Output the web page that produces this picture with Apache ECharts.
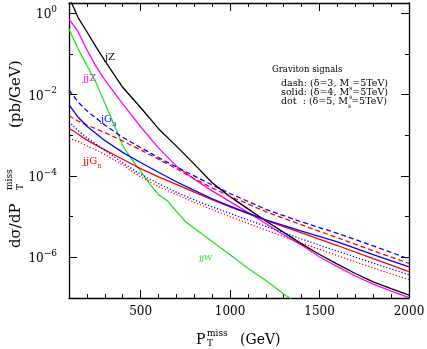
<!DOCTYPE html>
<html>
<head>
<meta charset="utf-8">
<script src="https://cdn.jsdelivr.net/npm/echarts@6/dist/echarts.min.js"></script>
<style>
  html, body { margin: 0; padding: 0; background: #fff; }
  #chart { width: 427px; height: 349px; }
</style>
</head>
<body>
<div id="chart"></div>
<script>
// missing pT points (GeV)
var ptBkg = [100, 150, 200, 250, 300, 400, 500, 600, 700, 800, 900, 1000, 1100, 1200, 1300, 1400, 1500, 1600, 1700, 1800, 1900, 2000];
var ptW = [100, 150, 200, 250, 300, 350, 400, 450, 500, 550, 600, 650, 700, 750, 800, 900, 1000, 1100, 1200, 1300, 1400];
var ptSig = [100, 150, 200, 300, 400, 500, 600, 700, 800, 900, 1000, 1200, 1400, 1600, 1800, 2000];

// backgrounds, dsigma/dpT (pb/GeV)
var jZ = [2.5, 0.79, 0.35, 0.151, 0.068, 1.51e-2, 4.8e-3, 1.45e-3, 5.4e-4, 1.95e-4, 6.8e-5, 3.1e-5, 1.55e-5, 7.8e-6, 4.1e-6, 2.14e-6, 1.17e-6, 6.8e-7, 4.0e-7, 2.5e-7, 1.7e-7, 1.17e-7];
var jjZ = [0.71, 0.355, 0.126, 0.05, 0.0229, 5.9e-3, 1.62e-3, 4.9e-4, 1.74e-4, 8.3e-5, 4.3e-5, 2.34e-5, 1.26e-5, 6.8e-6, 3.55e-6, 2.0e-6, 1.02e-6, 5.9e-7, 3.47e-7, 2.19e-7, 1.48e-7, 1.02e-7];
var jjW = [0.41, 0.135, 0.052, 0.020, 6.2e-3, 1.91e-3, 5.6e-4, 2.57e-4, 1.32e-4, 6.5e-5, 3.47e-5, 2.45e-5, 1.35e-5, 7.6e-6, 5.2e-6, 2.45e-6, 1.15e-6, 5.4e-7, 2.7e-7, 1.26e-7, 6.3e-8];

// graviton signals: dash d=3, solid d=4, dot d=5
var jGnDash = [1.29e-2, 6.6e-3, 3.98e-3, 1.78e-3, 8.9e-4, 5.0e-4, 2.82e-4, 1.66e-4, 1.0e-4, 6.0e-5, 3.7e-5, 1.51e-5, 7.4e-6, 3.9e-6, 1.91e-6, 9.1e-7];
var jGnSolid = [5.6e-3, 2.82e-3, 1.66e-3, 7.4e-4, 3.8e-4, 2.14e-4, 1.23e-4, 7.2e-5, 4.4e-5, 2.75e-5, 1.82e-5, 8.3e-6, 4.4e-6, 2.4e-6, 1.17e-6, 5.8e-7];
var jGnDot = [2.14e-3, 1.32e-3, 8.7e-4, 4.27e-4, 2.09e-4, 1.10e-4, 6.5e-5, 3.98e-5, 2.57e-5, 1.74e-5, 1.20e-5, 5.75e-6, 2.82e-6, 1.41e-6, 7.2e-7, 3.72e-7];
var jjGnDash = [3.02e-3, 2.24e-3, 1.78e-3, 1.17e-3, 7.24e-4, 4.37e-4, 2.57e-4, 1.51e-4, 8.5e-5, 5.1e-5, 3.16e-5, 1.32e-5, 6.3e-6, 3.02e-6, 1.45e-6, 7.1e-7];
var jjGnSolid = [1.48e-3, 1.07e-3, 7.6e-4, 4.37e-4, 2.57e-4, 1.51e-4, 9.5e-5, 6.2e-5, 3.98e-5, 2.63e-5, 1.74e-5, 8.1e-6, 3.98e-6, 1.95e-6, 9.3e-7, 4.47e-7];
var jjGnDot = [8.3e-4, 7.1e-4, 5.5e-4, 3.39e-4, 1.86e-4, 9.5e-5, 5.5e-5, 3.55e-5, 2.24e-5, 1.48e-5, 1.0e-5, 4.68e-6, 2.24e-6, 1.10e-6, 5.5e-7, 2.82e-7];

var xMajorTicks = [500, 1000, 1500, 2000];
var yMajorTicks = [1e-6, 1e-4, 1e-2, 1];

var SERIF = 'DejaVu Serif';

function pairs (xs, ys) {
  return xs.map(function (x, i) { return [x, ys[i]] })
}

function curve (name, xs, ys, color, type) {
  return {
    name: name,
    type: 'line',
    data: pairs(xs, ys),
    showSymbol: false,
    symbol: 'none',
    clip: true,
    lineStyle: { color: color, width: 1.3, type: type || 'solid' }
  }
}

function yLabel (v) {
  var l = Math.log10(v)
  var e = Math.round(l)
  if (Math.abs(l - e) > 1e-6 || e % 2 !== 0) return ''
  return '{b|10}{s|' + (e < 0 ? '\u2212' : '') + Math.abs(e) + '}'
}

function txt (x, y, text, size, color) {
  return { type: 'text', x: x, y: y, style: { text: text, font: size + 'px "DejaVu Serif"', fill: color || '#000', verticalAlign: 'middle' } }
}

function subTxt (x, y, main, sub, color) {
  return {
    type: 'text', x: x, y: y,
    style: {
      text: '{a|' + main + '}{n|' + sub + '}', verticalAlign: 'middle',
      rich: {
        a: { font: '10px "DejaVu Serif"', fill: color, verticalAlign: 'bottom', padding: [0, 0, 3, 0] },
        n: { font: '7px "DejaVu Serif"', fill: color, verticalAlign: 'bottom' }
      }
    }
  }
}

// one line of the signal key, M with subscript s
function keyLine (y, head, delta) {
  return {
    type: 'text', x: 281, y: y,
    style: {
      text: '{a|' + head + ' (\u03b4=' + delta + ', M}{s|s}{a|=5TeV)}', verticalAlign: 'middle',
      rich: {
        a: { font: '9.5px "DejaVu Serif"', fill: '#000', verticalAlign: 'bottom', padding: [0, 0, 2, 0] },
        s: { font: '6px "DejaVu Serif"', fill: '#000', verticalAlign: 'bottom' }
      }
    }
  }
}

var chart = echarts.init(document.getElementById('chart'))

var frame = { show: true, lineStyle: { color: '#000', width: 1.3 } }
var minorTick = { inside: true, length: 4, lineStyle: { color: '#000', width: 1 } }
function majorTick (vals) {
  return { inside: true, length: 8, customValues: vals, lineStyle: { color: '#000', width: 1 } }
}

chart.setOption({
  animation: false,
  backgroundColor: '#fff',
  grid: { left: 69, right: 18, top: 3, bottom: 51, containLabel: false, outerBoundsMode: 'none' },
  xAxis: [
    {
      type: 'value', position: 'bottom', min: 100, max: 2000, interval: 100,
      axisLine: frame,
      axisTick: minorTick,
      axisLabel: {
        margin: 8, color: '#000', fontFamily: SERIF, fontSize: 12,
        formatter: function (v) { return v % 500 === 0 ? String(v) : '' }
      },
      splitLine: { show: false }
    },
    {
      type: 'value', position: 'bottom', min: 100, max: 2000,
      axisLine: { show: false }, axisTick: majorTick(xMajorTicks),
      axisLabel: { show: false }, splitLine: { show: false }
    },
    {
      type: 'value', position: 'top', min: 100, max: 2000, interval: 100,
      axisLine: frame, axisTick: minorTick,
      axisLabel: { show: false }, splitLine: { show: false }
    },
    {
      type: 'value', position: 'top', min: 100, max: 2000,
      axisLine: { show: false }, axisTick: majorTick(xMajorTicks),
      axisLabel: { show: false }, splitLine: { show: false }
    }
  ],
  yAxis: [
    {
      type: 'log', logBase: 10, position: 'left', min: 1e-7, max: 1.78, splitNumber: 8,
      axisLine: frame,
      axisTick: minorTick,
      axisLabel: {
        margin: 12, color: '#000', fontFamily: SERIF, fontSize: 12,
        formatter: yLabel,
        rich: {
          b: { fontFamily: SERIF, fontSize: 12, color: '#000', verticalAlign: 'bottom' },
          s: { fontFamily: SERIF, fontSize: 9, color: '#000', verticalAlign: 'bottom', padding: [0, 0, 7, 0] }
        }
      },
      splitLine: { show: false }
    },
    {
      type: 'log', logBase: 10, position: 'left', min: 1e-7, max: 1.78,
      axisLine: { show: false }, axisTick: majorTick(yMajorTicks),
      axisLabel: { show: false }, splitLine: { show: false }
    },
    {
      type: 'log', logBase: 10, position: 'right', min: 1e-7, max: 1.78, splitNumber: 8,
      axisLine: frame, axisTick: minorTick,
      axisLabel: { show: false }, splitLine: { show: false }
    },
    {
      type: 'log', logBase: 10, position: 'right', min: 1e-7, max: 1.78,
      axisLine: { show: false }, axisTick: majorTick(yMajorTicks),
      axisLabel: { show: false }, splitLine: { show: false }
    }
  ],
  series: [
    curve('jjW', ptW, jjW, '#22e022'),
    curve('jjZ', ptBkg, jjZ, '#ff00ff'),
    curve('jZ', ptBkg, jZ, '#000000'),
    curve('jjGn dash', ptSig, jjGnDash, '#ff0000', [5, 3]),
    curve('jjGn solid', ptSig, jjGnSolid, '#ff0000'),
    curve('jjGn dot', ptSig, jjGnDot, '#ff0000', [1.2, 2]),
    curve('jGn dash', ptSig, jGnDash, '#0000ff', [5, 3]),
    curve('jGn solid', ptSig, jGnSolid, '#0000ff'),
    curve('jGn dot', ptSig, jGnDot, '#0000ff', [1.2, 2])
  ],
  graphic: [
    // y axis title, rotated
    {
      type: 'group', x: 16, y: 248, rotation: Math.PI / 2,
      children: [
        txt(0, 0, 'd\u03c3/dP', 15),
        txt(58, -6, 'miss', 9),
        txt(58, 5, 'T', 9),
        txt(120, 0, '(pb/GeV)', 15)
      ]
    },
    // x axis title
    txt(196, 340, 'P', 14),
    txt(207, 334, 'miss', 9),
    txt(207, 344, 'T', 9),
    txt(240, 340, '(GeV)', 14),
    // curve labels
    txt(105, 57, 'jZ', 10),
    txt(83, 78, 'jjZ', 10, '#ff00ff'),
    subTxt(101, 121, 'jG', 'n', '#0000ff'),
    subTxt(83, 163, 'jjG', 'n', '#ff0000'),
    txt(199, 258, 'jjW', 8, '#22e022'),
    // signal key
    txt(272, 70, 'Graviton signals', 8.5),
    keyLine(85, 'dash:', 3),
    keyLine(94, 'solid:', 4),
    keyLine(103, 'dot  :', 5)
  ]
})
</script>
</body>
</html>
